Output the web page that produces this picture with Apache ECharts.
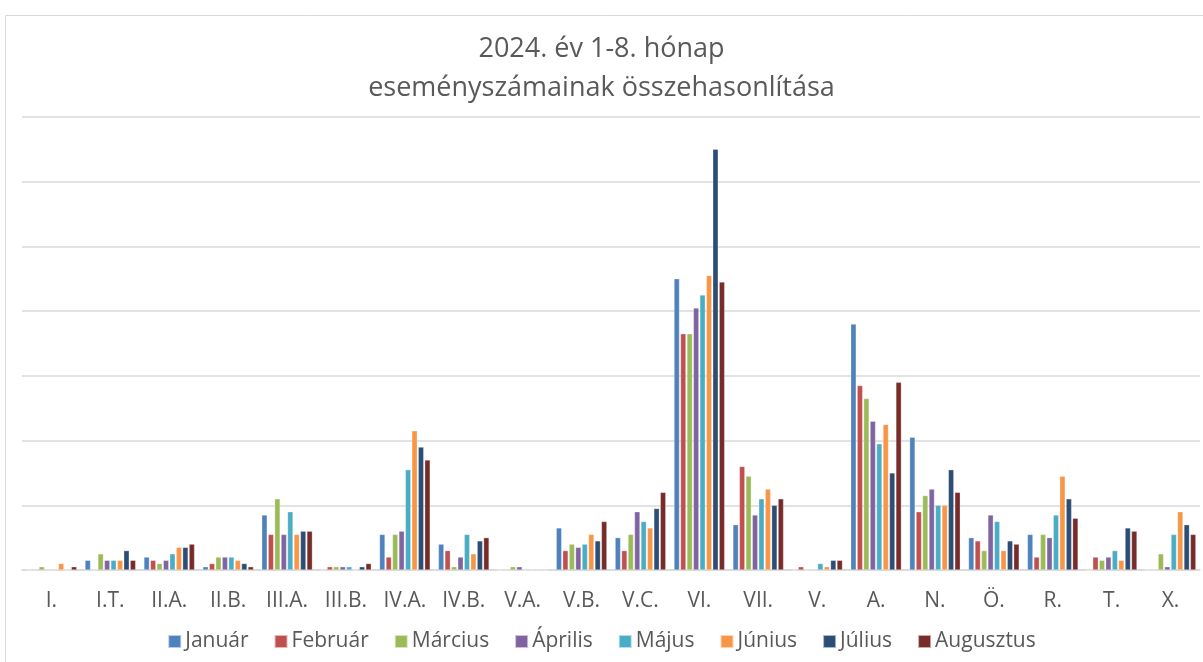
<!DOCTYPE html>
<html>
<head>
<meta charset="utf-8">
<script src="https://cdn.jsdelivr.net/npm/echarts@6/dist/echarts.min.js"></script>
<style>html,body{margin:0;padding:0;background:#fff;}#c{width:1203px;height:662px;}</style>
</head>
<body>
<div id="c"></div>
<script>
const categories = ['I.','I.T.','II.A.','II.B.','III.A.','III.B.','IV.A.','IV.B.','V.A.','V.B.','V.C.','VI.','VII.','V.','A.','N.','Ö.','R.','T.','X.'];
const seriesNames = ['Január','Február','Március','Április','Május','Június','Július','Augusztus'];
const colors = ['#4F81BD','#C0504D','#9BBB59','#8064A2','#4BACC6','#F79646','#2C4D75','#772C2A'];
// values per category: [Jan, Feb, Már, Ápr, Máj, Jún, Júl, Aug]
const januar    = [0,3,4,1,17,0,11,8,0,13,10,90,14,0,76,41,10,11,0,0];
const februar   = [0,0,3,2,11,1,4,6,0,6,6,73,32,1,57,18,9,4,4,0];
const marcius   = [1,5,2,4,22,1,11,1,1,8,11,73,29,0,53,23,6,11,3,5];
const aprilis   = [0,3,3,4,11,1,12,4,1,7,18,81,17,0,46,25,17,10,4,1];
const majus     = [0,3,5,4,18,1,31,11,0,8,15,85,22,2,39,20,15,17,6,11];
const junius    = [2,3,7,3,11,0,43,5,0,11,13,91,25,1,45,20,6,29,3,18];
const julius    = [0,6,7,2,12,1,38,9,0,9,19,130,20,3,30,31,9,22,13,14];
const augusztus = [1,3,8,1,12,2,34,10,0,15,24,89,22,3,58,24,8,16,12,11];
const allValues = [januar, februar, marcius, aprilis, majus, junius, julius, augusztus];

const FONT = 'Open Sans, sans-serif';
const chart = echarts.init(document.getElementById('c'));
chart.setOption({
  animation: false,
  color: colors,
  graphic: [{
    type: 'rect', left: 3, top: 13, shape: {width: 1220, height: 680},
    style: {fill: 'none', stroke: '#D9D9D9', lineWidth: 1}, silent: true
  }],
  title: {
    text: '2024. év 1-8. hónap\neseményszámainak összehasonlítása',
    left: 'center', top: 25,
    textStyle: {color: '#595959', fontSize: 27, fontWeight: 'normal', fontFamily: FONT, lineHeight: 39}
  },
  legend: {
    data: seriesNames, top: 631, left: 'center', padding: 0,
    itemWidth: 13, itemHeight: 13, itemGap: 25,
    icon: 'rect',
    textStyle: {color: '#595959', fontSize: 21, fontFamily: FONT, padding: [0,0,0,-1]}
  },
  grid: {left: 22, right: 3, top: 117, bottom: 92},
  xAxis: {
    type: 'category', data: categories,
    axisLine: {lineStyle: {color: '#D9D9D9', width: 1.5}},
    axisTick: {show: false},
    axisLabel: {color: '#595959', fontSize: 21, margin: 21, fontFamily: FONT}
  },
  yAxis: {
    type: 'value', min: 0, max: 140, interval: 20,
    axisLabel: {show: false}, axisLine: {show: false}, axisTick: {show: false},
    splitLine: {lineStyle: {color: '#D9D9D9', width: 1.5}}
  },
  series: seriesNames.map((n, i) => ({
    name: n, type: 'bar', data: allValues[i],
    barGap: '18%', barCategoryGap: '14%',
    itemStyle: {color: colors[i], borderColor: 'rgba(255,255,255,0.6)', borderWidth: 0.5}
  }))
});
</script>
</body>
</html>
